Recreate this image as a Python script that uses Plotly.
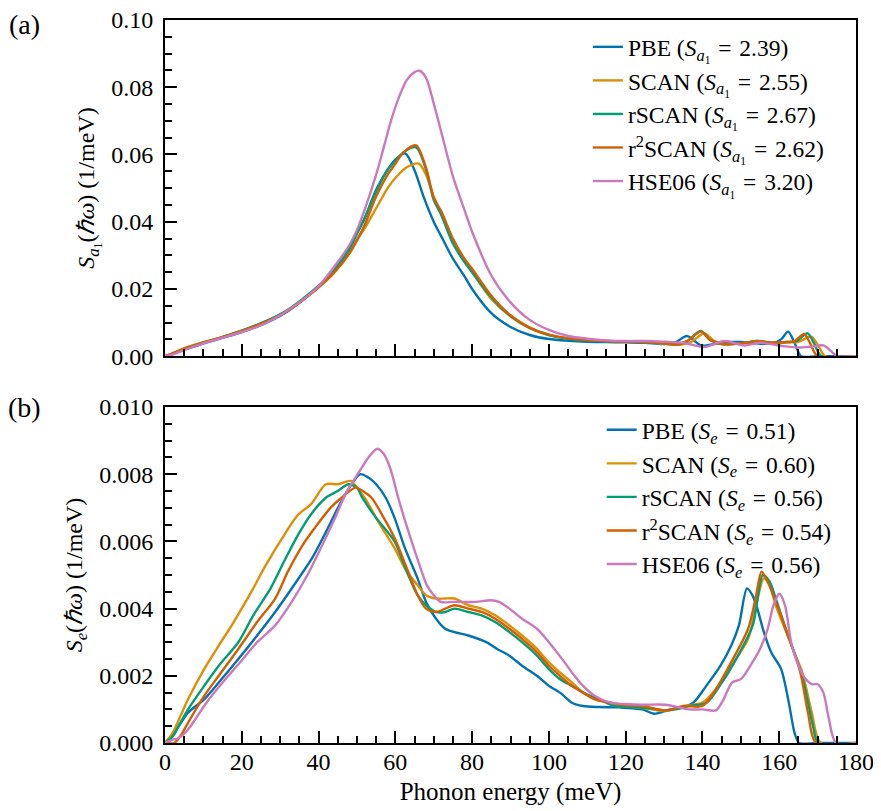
import plotly.graph_objects as go

# ---------------- Labels / styling info ----------------
labels = ["PBE", "SCAN", "rSCAN", "r<sup>2</sup>SCAN", "HSE06"]
S_a1 = ["2.39", "2.55", "2.67", "2.62", "3.20"]
S_e = ["0.51", "0.60", "0.56", "0.54", "0.56"]
colors = ["#0173b2", "#de8f05", "#029e73", "#d55e00", "#cc78bc"]

# ---------------- Data: panel (a) S_a1(hw) ----------------
pbe_a_x = [0, 2, 5, 8, 10, 13, 16, 20, 24, 28, 32, 36, 40, 44, 48, 50, 52, 55, 58, 60, 62.6, 65, 67.5, 70, 72.5, 75, 78, 80, 85, 90, 95, 100, 105, 110, 115, 120, 125, 130, 133, 136, 139.6, 142, 146, 150, 154, 158, 160.5, 162.3, 164, 165.7, 170, 180]
pbe_a_y = [0, 0.0007, 0.002, 0.003, 0.0038, 0.0048, 0.0058, 0.0072, 0.0088, 0.0108, 0.0134, 0.0168, 0.0206, 0.0255, 0.032, 0.0365, 0.041, 0.0495, 0.0555, 0.0585, 0.0603, 0.0553, 0.047, 0.040, 0.0345, 0.029, 0.0238, 0.0200, 0.0128, 0.0087, 0.0063, 0.0051, 0.0046, 0.0043, 0.0042, 0.0041, 0.004, 0.0036, 0.0042, 0.006, 0.0032, 0.0034, 0.0042, 0.0042, 0.0038, 0.0038, 0.005, 0.0073, 0.004, 0.0, 0, 0]

scan_a_x = [0, 2, 5, 8, 10, 13, 16, 20, 24, 28, 32, 36, 40, 44, 48, 50, 52, 55, 58, 60, 63, 66.1, 68, 70, 72, 75, 78, 80, 85, 90, 95, 100, 105, 110, 115, 120, 125, 130, 134, 137, 140.5, 143, 146, 150, 154.4, 158, 162, 165, 168.3, 170, 172, 180]
scan_a_y = [0, 0.0009, 0.0024, 0.0035, 0.0042, 0.0051, 0.0061, 0.0076, 0.0093, 0.0112, 0.0137, 0.0168, 0.0205, 0.0248, 0.0305, 0.0345, 0.038, 0.044, 0.050, 0.053, 0.0562, 0.0573, 0.054, 0.0474, 0.042, 0.034, 0.0285, 0.025, 0.017, 0.0118, 0.0083, 0.0063, 0.0053, 0.0048, 0.0045, 0.0043, 0.0042, 0.0037, 0.0034, 0.0042, 0.0068, 0.0046, 0.0036, 0.0038, 0.0044, 0.004, 0.0041, 0.0043, 0.0058, 0.0035, 0, 0]

rscan_a_x = [0, 2, 5, 8, 10, 13, 16, 20, 24, 28, 32, 36, 40, 44, 48, 50, 52, 55, 58, 60, 62, 65.4, 68, 70, 72, 75, 78, 80, 85, 90, 95, 100, 105, 110, 115, 120, 125, 130, 133, 136, 139.6, 142, 145, 150, 154.4, 158, 162, 164.5, 167.4, 169, 171, 180]
rscan_a_y = [0, 0.0008, 0.0022, 0.0033, 0.004, 0.005, 0.0061, 0.0076, 0.0093, 0.0113, 0.0138, 0.0172, 0.021, 0.0255, 0.0318, 0.0365, 0.041, 0.049, 0.0555, 0.058, 0.0605, 0.0621, 0.0555, 0.0465, 0.042, 0.0335, 0.028, 0.025, 0.0175, 0.012, 0.0084, 0.0063, 0.0052, 0.0047, 0.0044, 0.0043, 0.0042, 0.0038, 0.0034, 0.0045, 0.0075, 0.0048, 0.0036, 0.0038, 0.0045, 0.004, 0.0042, 0.0045, 0.0068, 0.004, 0, 0]

r2scan_a_x = [0, 2, 5, 8, 10, 13, 16, 20, 24, 28, 32, 36, 40, 44, 48, 50, 52, 55, 58, 60, 62, 65.4, 68, 70, 72, 75, 78, 80, 85, 90, 95, 100, 105, 110, 115, 120, 125, 130, 133, 136, 139.6, 142, 145, 150, 154.4, 158, 162, 164, 166.5, 168, 170, 180]
r2scan_a_y = [0, 0.0008, 0.0022, 0.0033, 0.004, 0.005, 0.006, 0.0075, 0.0092, 0.011, 0.0135, 0.0168, 0.0205, 0.0248, 0.0305, 0.0345, 0.039, 0.0475, 0.054, 0.0572, 0.0605, 0.0627, 0.056, 0.0472, 0.043, 0.035, 0.029, 0.026, 0.018, 0.0122, 0.0085, 0.0064, 0.0053, 0.0048, 0.0045, 0.0043, 0.0042, 0.0038, 0.0034, 0.0045, 0.0073, 0.0048, 0.0036, 0.0038, 0.0045, 0.004, 0.0042, 0.0045, 0.0066, 0.004, 0, 0]

hse_a_x = [0, 2, 5, 10, 15, 20, 25, 30, 35, 40, 45, 48, 50, 52, 55, 57, 59, 61, 63, 65, 66.3, 68, 70, 72, 75, 78, 80, 85, 90, 95, 100, 105, 110, 115, 120, 125, 130, 135, 140.4, 145.7, 150.9, 155, 161, 165, 168, 171.5, 173.5, 175.2, 180]
hse_a_y = [0, 0.0005, 0.0018, 0.0038, 0.0055, 0.0072, 0.0092, 0.0122, 0.016, 0.0208, 0.028, 0.033, 0.0375, 0.0435, 0.054, 0.0622, 0.0705, 0.0772, 0.0822, 0.0845, 0.0849, 0.0828, 0.0752, 0.0665, 0.0535, 0.0435, 0.037, 0.024, 0.016, 0.0108, 0.0078, 0.006, 0.0052, 0.0047, 0.0045, 0.0045, 0.0043, 0.004, 0.0027, 0.0045, 0.0032, 0.004, 0.003, 0.0026, 0.0028, 0.0032, 0.0015, 0, 0]

# ---------------- Data: panel (b) S_e(hw) ----------------
pbe_b_x = [0, 2, 3.6, 6, 10.2, 14, 19.1, 24, 28.7, 33, 38.3, 42, 45.5, 48, 50.8, 53, 55, 57.5, 59.8, 62.5, 65.8, 68, 70.6, 73, 75.4, 79, 83.7, 86.5, 89.7, 93, 96.9, 100, 102.9, 106, 108.9, 113, 118.4, 124.4, 127.4, 131.6, 134.5, 137.6, 141, 144.7, 147.5, 149.5, 151.6, 153, 154.3, 156, 157.9, 160.5, 162.5, 164, 165.2, 170, 180]
pbe_b_y = [0, 0.0002, 0.0005, 0.0009, 0.0013, 0.0018, 0.0025, 0.0032, 0.0039, 0.0046, 0.0055, 0.0063, 0.0071, 0.0076, 0.008, 0.0079, 0.0077, 0.0073, 0.0067, 0.0058, 0.0049, 0.0042, 0.0037, 0.0034, 0.0033, 0.0032, 0.003, 0.0028, 0.0026, 0.0023, 0.002, 0.0017, 0.0015, 0.0012, 0.0011, 0.00107, 0.00106, 0.001, 0.00087, 0.001, 0.00105, 0.0012, 0.0017, 0.0023, 0.0029, 0.0035, 0.0046, 0.0044, 0.004, 0.0033, 0.0027, 0.0022, 0.0012, 0.0003, 0, 0, 0]

scan_b_x = [0, 2, 4, 6, 10.2, 14, 17.9, 22, 26.3, 30, 34.7, 38, 41.9, 45, 48.4, 50, 52, 56, 59.8, 63, 65.8, 68, 70.6, 73, 75.4, 79, 82.5, 86, 89.7, 93, 96.9, 100, 102.9, 106, 108.9, 112, 116, 120, 124.4, 127, 130.4, 135.2, 140, 143.5, 147, 151.9, 154, 156, 157.5, 159.1, 161.5, 163.9, 166, 168.5, 170.8, 180]
scan_b_y = [0, 0.0003, 0.0008, 0.0013, 0.0022, 0.0029, 0.0036, 0.0044, 0.0053, 0.006, 0.0068, 0.0071, 0.0077, 0.0077, 0.0078, 0.0076, 0.0073, 0.0065, 0.0058, 0.0051, 0.0047, 0.0044, 0.0043, 0.0043, 0.0043, 0.0041, 0.004, 0.0038, 0.0035, 0.0032, 0.0028, 0.0024, 0.0021, 0.0018, 0.0015, 0.0013, 0.0012, 0.0011, 0.00104, 0.001, 0.00095, 0.0011, 0.0012, 0.0016, 0.0022, 0.0031, 0.0041, 0.0049, 0.0047, 0.0041, 0.0034, 0.0027, 0.0021, 0.0009, 0, 0]

rscan_b_x = [0, 2, 4, 6, 10.2, 14, 19.1, 23, 27.5, 31, 34.7, 38, 41.9, 45, 47.8, 50, 51.4, 55, 59.8, 63, 65.8, 68, 70.6, 73, 75.4, 79, 82.5, 86, 89.7, 93, 96.9, 100, 102.9, 106, 108.9, 113, 117.2, 121, 125.6, 130.4, 133, 136.4, 141.1, 144.5, 148.3, 153.1, 154.5, 155.7, 157.5, 159.1, 162, 165.7, 167.5, 168.8, 170.2, 180]
rscan_b_y = [0, 0.0002, 0.0006, 0.001, 0.0017, 0.0023, 0.003, 0.0038, 0.0046, 0.0054, 0.0062, 0.0068, 0.0073, 0.0075, 0.0077, 0.0076, 0.0073, 0.0067, 0.006, 0.0051, 0.0044, 0.0041, 0.0039, 0.0039, 0.004, 0.0039, 0.0038, 0.0036, 0.0033, 0.003, 0.0026, 0.0022, 0.0019, 0.0017, 0.0015, 0.0013, 0.0011, 0.00107, 0.00104, 0.00097, 0.001, 0.0011, 0.0012, 0.0017, 0.0024, 0.0035, 0.0044, 0.005, 0.0048, 0.0043, 0.0033, 0.0021, 0.0012, 0.0005, 0, 0]

r2scan_b_x = [0, 2.4, 4, 6, 10.2, 14, 19.1, 24, 28.7, 32, 35.9, 39, 43.1, 46, 49.6, 51.5, 53.8, 57, 59.8, 63, 65.8, 68, 70.6, 73, 75.4, 79, 82.5, 86, 89.7, 93, 96.9, 100, 102.9, 106, 108.9, 112, 116, 120, 124.4, 130.4, 135.2, 140, 143.5, 147, 151.9, 154, 155.4, 157, 159.1, 162, 165.5, 167.5, 169.6, 180]
r2scan_b_y = [0, 0, 0.0002, 0.0006, 0.0014, 0.002, 0.0028, 0.0036, 0.0043, 0.0051, 0.0059, 0.0064, 0.007, 0.0073, 0.0076, 0.0075, 0.0073, 0.0067, 0.0061, 0.0052, 0.0044, 0.004, 0.0039, 0.004, 0.0041, 0.004, 0.0039, 0.0037, 0.0034, 0.0031, 0.0027, 0.0023, 0.002, 0.0017, 0.0015, 0.0013, 0.0012, 0.00112, 0.0011, 0.00097, 0.0011, 0.0011, 0.0016, 0.0023, 0.0034, 0.0044, 0.0051, 0.0048, 0.0042, 0.0033, 0.0021, 0.0009, 0, 0]

hse_b_x = [0, 2, 3.6, 6, 10.8, 15, 20.3, 24, 28.7, 33, 37.1, 41, 44.3, 47, 50.2, 53, 55.3, 57, 58.6, 61, 63.4, 66, 68.2, 70, 71.8, 75, 77.8, 81, 84.9, 87, 89.7, 93, 96.9, 100, 104.1, 106, 108.9, 112, 116, 120, 124.4, 130.4, 136.4, 140, 143.5, 145.5, 147.7, 150, 153, 155, 157, 158.5, 160, 161.5, 163.3, 166.3, 168.5, 170, 171.5, 172.8, 174.8, 180]
hse_b_y = [0, 0.0001, 0.00015, 0.0004, 0.0012, 0.0018, 0.0025, 0.003, 0.0035, 0.0042, 0.005, 0.0059, 0.0067, 0.0074, 0.008, 0.0085, 0.00876, 0.0086, 0.0082, 0.0072, 0.0063, 0.0054, 0.0047, 0.0044, 0.0042, 0.0042, 0.0042, 0.0042, 0.00425, 0.0042, 0.004, 0.0037, 0.0034, 0.003, 0.0024, 0.0021, 0.0017, 0.0014, 0.0012, 0.00116, 0.00114, 0.00114, 0.001, 0.001, 0.00097, 0.0013, 0.0018, 0.0019, 0.0024, 0.0028, 0.0034, 0.0041, 0.00444, 0.0041, 0.0029, 0.002, 0.00175, 0.00175, 0.0015, 0.0008, 0, 0]

x_ticks = [0, 20, 40, 60, 80, 100, 120, 140, 160, 180]
ya_ticks = [0.00, 0.02, 0.04, 0.06, 0.08, 0.10]
yb_ticks = [0.000, 0.002, 0.004, 0.006, 0.008, 0.010]

xs_a = [pbe_a_x, scan_a_x, rscan_a_x, r2scan_a_x, hse_a_x]
ys_a = [pbe_a_y, scan_a_y, rscan_a_y, r2scan_a_y, hse_a_y]
xs_b = [pbe_b_x, scan_b_x, rscan_b_x, r2scan_b_x, hse_b_x]
ys_b = [pbe_b_y, scan_b_y, rscan_b_y, r2scan_b_y, hse_b_y]

FONT = "Liberation Serif"
EQ = "\u2004=\u2004"
fig = go.Figure()

for i in range(5):
    fig.add_trace(go.Scatter(
        x=xs_a[i], y=ys_a[i], mode="lines",
        line=dict(color=colors[i], width=2.4, shape="spline", smoothing=0.8),
        name=f"{labels[i]} (<i>S</i><sub><i>a</i><sub>1</sub></sub>{EQ}{S_a1[i]})",
        xaxis="x", yaxis="y", legend="legend"))
for i in range(5):
    fig.add_trace(go.Scatter(
        x=xs_b[i], y=ys_b[i], mode="lines",
        line=dict(color=colors[i], width=2.4, shape="spline", smoothing=0.8),
        name=f"{labels[i]} (<i>S<sub>e</sub></i>{EQ}{S_e[i]})",
        xaxis="x2", yaxis="y2", legend="legend2"))

axis_common = dict(
    showline=True, linecolor="black", linewidth=2, mirror=True,
    ticks="inside", ticklen=12, tickwidth=1.8, tickcolor="black",
    showgrid=False, zeroline=False, automargin=False,
    ticklabeloverflow="allow",
    tickfont=dict(family=FONT, size=24, color="black"),
)
minor_x = dict(dtick=5, ticks="inside", ticklen=7, tickwidth=1.5, tickcolor="black")

fig.update_layout(
    width=881, height=811,
    margin=dict(l=157, r=33, t=12, b=76, autoexpand=False),
    paper_bgcolor="white", plot_bgcolor="white",
    font=dict(family=FONT, size=24, color="black"),
    xaxis=dict(domain=[0, 1], anchor="y", range=[0, 180], tickvals=x_ticks,
               showticklabels=False, minor=minor_x, **axis_common),
    yaxis=dict(domain=[0.535, 1], anchor="x", range=[0, 0.1], tickvals=ya_ticks,
               tickformat=".2f", ticklabelstandoff=5,
               minor=dict(dtick=0.005, ticks="inside", ticklen=7, tickwidth=1.5, tickcolor="black"),
               title=dict(text="<i>S</i><sub><i>a</i><sub>1</sub></sub>(<i>ℏω</i>) (1/meV)",
                          font=dict(family=FONT, size=24), standoff=10),
               **axis_common),
    xaxis2=dict(domain=[0, 1], anchor="y2", range=[0, 180], tickvals=x_ticks,
                ticklabelstandoff=-4, minor=minor_x,
                title=dict(text="Phonon energy (meV)", font=dict(family=FONT, size=25), standoff=9),
                **axis_common),
    yaxis2=dict(domain=[0, 0.4647], anchor="x2", range=[0, 0.010], tickvals=yb_ticks,
                tickformat=".3f", ticklabelstandoff=5,
                minor=dict(dtick=0.0005, ticks="inside", ticklen=7, tickwidth=1.5, tickcolor="black"),
                title=dict(text="<i>S<sub>e</sub></i>(<i>ℏω</i>) (1/meV)",
                           font=dict(family=FONT, size=24), standoff=10),
                **axis_common),
    legend=dict(x=0.612, y=0.993, xanchor="left", yanchor="top",
                bgcolor="rgba(0,0,0,0)", font=dict(family=FONT, size=23.5),
                tracegroupgap=0),
    legend2=dict(x=0.632, y=0.4633, xanchor="left", yanchor="top",
                 bgcolor="rgba(0,0,0,0)", font=dict(family=FONT, size=23.5),
                 tracegroupgap=0),
    showlegend=True,
)

fig.add_annotation(text="(a)", xref="paper", yref="paper", x=-0.203, y=1.0166,
                   xanchor="center", yanchor="top", showarrow=False, borderpad=0,
                   font=dict(family=FONT, size=28))
fig.add_annotation(text="(b)", xref="paper", yref="paper", x=-0.203, y=0.4647,
                   xanchor="center", yanchor="middle", showarrow=False,
                   font=dict(family=FONT, size=28))

fig.write_html("out.html")
